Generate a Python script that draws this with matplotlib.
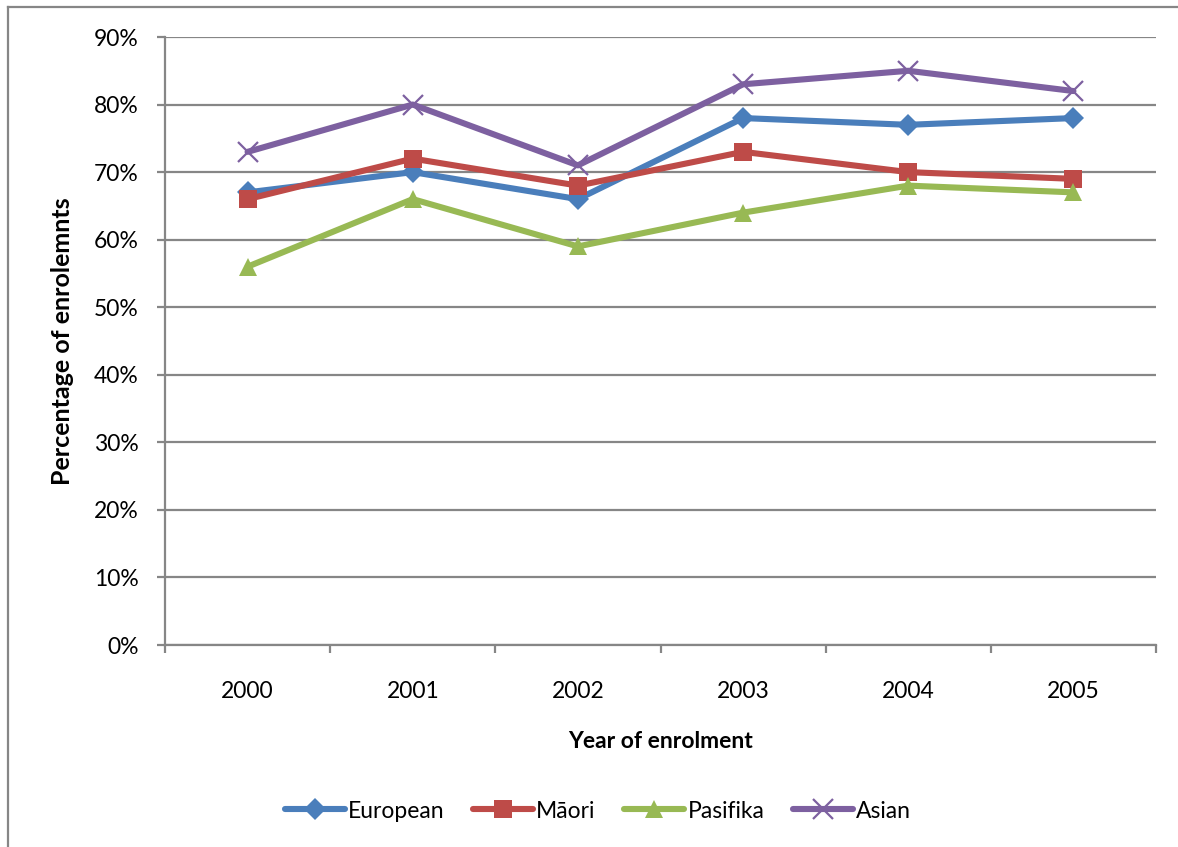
import matplotlib
matplotlib.use("Agg")
import matplotlib.pyplot as plt
from matplotlib.lines import Line2D
from matplotlib.ticker import FixedLocator, NullFormatter

plt.rcParams['font.family'] = ['Lato', 'DejaVu Sans']

years = ["2000", "2001", "2002", "2003", "2004", "2005"]
european = [67, 70, 66, 78, 77, 78]
maori = [66, 72, 68, 73, 70, 69]
pasifika = [56, 66, 59, 64, 68, 67]
asian = [73, 80, 71, 83, 85, 82]
y_ticks = [0, 10, 20, 30, 40, 50, 60, 70, 80, 90]

W, H = 1178, 847
fig = plt.figure(figsize=(W / 100, H / 100), dpi=100)

# outer chart frame (left and top edges visible)
fig.add_artist(Line2D([8 / W, 8 / W], [0, 1 - 7 / H], color="#868686", lw=1.6,
                      transform=fig.transFigure))
fig.add_artist(Line2D([8 / W, 1], [1 - 7 / H, 1 - 7 / H], color="#868686", lw=1.6,
                      transform=fig.transFigure))

left, right, top, bottom = 165, 1156, 37, 645
ax = fig.add_axes([left / W, 1 - bottom / H, (right - left) / W, (bottom - top) / H])

x = list(range(len(years)))
series = [
    ("European", european, "#4a7ebb", "D", 11),
    ("Māori", maori, "#be4b48", "s", 13),
    ("Pasifika", pasifika, "#98b954", "^", 13),
    ("Asian", asian, "#7d60a0", "x", 14),
]
for name, vals, col, mk, ms in series:
    if mk == "x":
        ax.plot(x, vals, color=col, lw=4.4, marker=mk, markersize=ms,
                markeredgewidth=1.6, label=name, solid_capstyle="round")
    else:
        ax.plot(x, vals, color=col, lw=4.4, marker=mk, markersize=ms,
                markeredgewidth=0, label=name, solid_capstyle="round")

ax.set_xlim(-0.5, len(years) - 0.5)
ax.set_ylim(0, 90)
ax.set_yticks(y_ticks)
ax.set_yticklabels([f"{v}%" for v in y_ticks], fontsize=16.5)
ax.yaxis.grid(True, color="#868686", lw=1.6)
ax.set_axisbelow(True)

ax.set_xticks(x)
ax.set_xticklabels(years, fontsize=16.5)
ax.tick_params(axis="x", which="major", length=0, pad=26)
ax.xaxis.set_minor_locator(FixedLocator([i - 0.5 for i in range(len(years) + 1)]))
ax.xaxis.set_minor_formatter(NullFormatter())
ax.tick_params(axis="x", which="minor", length=6, width=1.6, color="#868686")
ax.tick_params(axis="y", length=6, width=1.6, color="#868686", pad=13)

for s in ["top", "right"]:
    ax.spines[s].set_visible(False)
for s in ["left", "bottom"]:
    ax.spines[s].set_color("#868686")
    ax.spines[s].set_linewidth(1.6)

ax.set_xlabel("Year of enrolment", fontsize=16.5, fontweight="bold", labelpad=21)
ax.set_ylabel("Percentage of enrolemnts", fontsize=18, fontweight="bold", labelpad=14)

fig.legend(loc="center", bbox_to_anchor=(598 / W, 1 - 811 / H), ncol=4, frameon=False,
           fontsize=16.5, handlelength=2.6, handletextpad=0.15, columnspacing=1.25)

fig.savefig("out.png", dpi=100, facecolor="white")
